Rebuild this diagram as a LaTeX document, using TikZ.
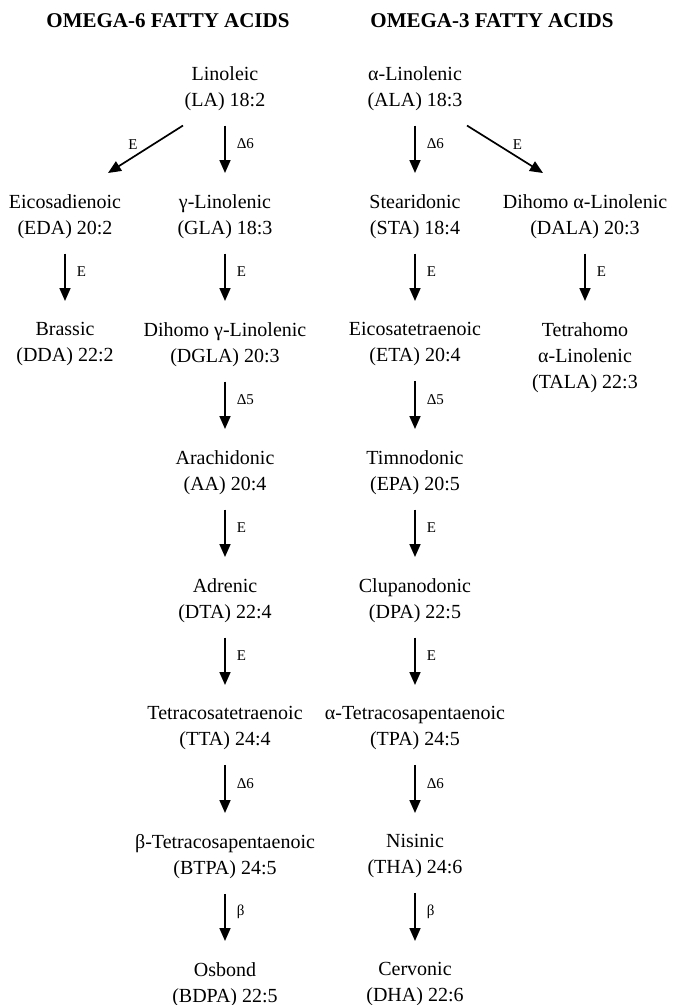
\documentclass[tikz,border=0pt]{standalone}
\usepackage{fontspec}
\setmainfont{Liberation Serif}
\usetikzlibrary{arrows.meta}

\begin{document}
\begin{tikzpicture}[x=1pt, y=-1pt,
        acid/.style={anchor=north, align=center, inner sep=0pt, font=\fontsize{20}{26}\selectfont},
        head/.style={inner sep=0pt, font=\fontsize{21}{25}\selectfont\bfseries},
        conv/.style={-{Triangle[length=13pt,width=11pt]}, line width=1.7pt, shorten <=15pt, shorten >=21pt},
        enz/.style={inner sep=0pt, font=\fontsize{15}{18}\selectfont},
        side/.style={enz, pos=0.4, anchor=west, xshift=11pt}]
        \useasboundingbox (0,0) rectangle (674,1005);

        \node[head] (om6) at (168,21) {OMEGA-6 FATTY ACIDS};
        \node[head] (om3) at (492,21) {OMEGA-3 FATTY ACIDS};

        \node[acid] (la) at (225,66) {Linoleic\\(LA) 18:2};
        \node[acid] (ala) at (415,66) {α-Linolenic\\(ALA) 18:3};
        \node[acid] (eda) at (65,194) {Eicosadienoic\\(EDA) 20:2};
        \node[acid] (gla) at (225,194) {γ-Linolenic\\(GLA) 18:3};
        \node[acid] (sta) at (415,194) {Stearidonic\\(STA) 18:4};
        \node[acid] (dala) at (585,194) {Dihomo α-Linolenic\\(DALA) 20:3};
        \node[acid] (dda) at (65,322) {Brassic\\(DDA) 22:2};
        \node[acid] (dgla) at (225,322) {Dihomo γ-Linolenic\\(DGLA) 20:3};
        \node[acid] (eta) at (415,322) {Eicosatetraenoic\\(ETA) 20:4};
        \node[acid] (tala) at (585,322) {Tetrahomo\\α-Linolenic\\(TALA) 22:3};
        \node[acid] (aa) at (225,450) {Arachidonic\\(AA) 20:4};
        \node[acid] (epa) at (415,450) {Timnodonic\\(EPA) 20:5};
        \node[acid] (dta) at (225,578) {Adrenic\\(DTA) 22:4};
        \node[acid] (dpa) at (415,578) {Clupanodonic\\(DPA) 22:5};
        \node[acid] (tta) at (225,706) {Tetracosatetraenoic\\(TTA) 24:4};
        \node[acid] (tpa) at (415,706) {α-Tetracosapentaenoic\\(TPA) 24:5};
        \node[acid] (btpa) at (225,834) {β-Tetracosapentaenoic\\(BTPA) 24:5};
        \node[acid] (tha) at (415,834) {Nisinic\\(THA) 24:6};
        \node[acid] (bdpa) at (225,962) {Osbond\\(BDPA) 22:5};
        \node[acid] (dha) at (415,962) {Cervonic\\(DHA) 22:6};

        \draw[conv, shorten <=0pt, shorten >=0pt] ([shift={(-42,15)}]la.south) -- node[enz, pos=0.4, xshift=-20pt] {E} ([shift={(43,-21)}]eda.north);
        \draw[conv] (la) -- node[side] {Δ6} (gla);
        \draw[conv] (ala) -- node[side] {Δ6} (sta);
        \draw[conv, shorten <=0pt, shorten >=0pt] ([shift={(52,15)}]ala.south) -- node[enz, pos=0.4, xshift=20pt] {E} ([shift={(-42,-21)}]dala.north);
        \draw[conv] (eda) -- node[side] {E} (dda);
        \draw[conv] (gla) -- node[side] {E} (dgla);
        \draw[conv] (sta) -- node[side] {E} (eta);
        \draw[conv] (dala) -- node[side] {E} (tala);
        \draw[conv] (dgla) -- node[side] {Δ5} (aa);
        \draw[conv] (eta) -- node[side] {Δ5} (epa);
        \draw[conv] (aa) -- node[side] {E} (dta);
        \draw[conv] (epa) -- node[side] {E} (dpa);
        \draw[conv] (dta) -- node[side] {E} (tta);
        \draw[conv] (dpa) -- node[side] {E} (tpa);
        \draw[conv] (tta) -- node[side] {Δ6} (btpa);
        \draw[conv] (tpa) -- node[side] {Δ6} (tha);
        \draw[conv] (btpa) -- node[side] {β} (bdpa);
        \draw[conv] (tha) -- node[side] {β} (dha);
    \end{tikzpicture}
\end{document}
